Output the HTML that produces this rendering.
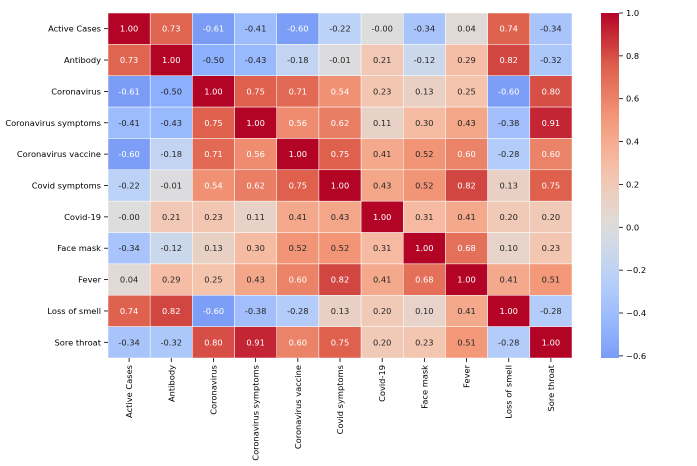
<!DOCTYPE html>
<html><head><meta charset="utf-8"><style>
body{margin:0;background:#fff;}
svg{display:block;font-family:"DejaVu Sans","Liberation Sans",sans-serif;}
</style></head><body>
<svg id="chart" width="697" height="466"></svg>
<script>
const labels=["Active Cases","Antibody","Coronavirus","Coronavirus symptoms","Coronavirus vaccine","Covid symptoms","Covid-19","Face mask","Fever","Loss of smell","Sore throat"];
const row0=[1.00,0.73,-0.61,-0.41,-0.60,-0.22,-0.00,-0.34,0.04,0.74,-0.34];
const row1=[0.73,1.00,-0.50,-0.43,-0.18,-0.01,0.21,-0.12,0.29,0.82,-0.32];
const row2=[-0.61,-0.50,1.00,0.75,0.71,0.54,0.23,0.13,0.25,-0.60,0.80];
const row3=[-0.41,-0.43,0.75,1.00,0.56,0.62,0.11,0.30,0.43,-0.38,0.91];
const row4=[-0.60,-0.18,0.71,0.56,1.00,0.75,0.41,0.52,0.60,-0.28,0.60];
const row5=[-0.22,-0.01,0.54,0.62,0.75,1.00,0.43,0.52,0.82,0.13,0.75];
const row6=[-0.00,0.21,0.23,0.11,0.41,0.43,1.00,0.31,0.41,0.20,0.20];
const row7=[-0.34,-0.12,0.13,0.30,0.52,0.52,0.31,1.00,0.68,0.10,0.23];
const row8=[0.04,0.29,0.25,0.43,0.60,0.82,0.41,0.68,1.00,0.41,0.51];
const row9=[0.74,0.82,-0.60,-0.38,-0.28,0.13,0.20,0.10,0.41,1.00,-0.28];
const row10=[-0.34,-0.32,0.80,0.91,0.60,0.75,0.20,0.23,0.51,-0.28,1.00];
const values=[row0,row1,row2,row3,row4,row5,row6,row7,row8,row9,row10];
const cbTicks=[1.0,0.8,0.6,0.4,0.2,0.0,-0.2,-0.4,-0.6];
const vmin=-0.61,vmax=1.0;

const svg=document.getElementById('chart');
const NS='http://www.w3.org/2000/svg';
const L=108,T=13,R=572,B=358;
const FS=8.3;
const n=labels.length,cw=(R-L)/n,ch=(B-T)/n;
const stops=[[0,59,76,192],[0.125,98,130,234],[0.25,141,176,254],[0.375,184,208,249],[0.5,221,221,221],[0.625,245,196,173],[0.75,244,154,123],[0.875,222,96,77],[1,180,4,38]];
function cmap(v){let t=(v+1)/2;t=Math.max(0,Math.min(1,t));
 for(let i=1;i<stops.length;i++){if(t<=stops[i][0]){const a=stops[i-1],b=stops[i],f=(t-a[0])/(b[0]-a[0]);
 return [0,1,2].map(k=>Math.round(a[k+1]+(b[k+1]-a[k+1])*f));}}return stops[8].slice(1);}
function mk(tag,attrs,txt){const e=document.createElementNS(NS,tag);for(const k in attrs)e.setAttribute(k,attrs[k]);if(txt!==undefined)e.textContent=txt;svg.appendChild(e);return e;}
const xs=i=>L+i*cw, ys=i=>T+i*ch;
const fmt=v=>{let s=Math.abs(v).toFixed(2);return ((v<0||Object.is(v,-0))?'-':'')+s;};
for(let r=0;r<n;r++){for(let c=0;c<n;c++){const v=values[r][c],col=cmap(v);
 const rect=mk('rect',{x:xs(c),y:ys(r),width:cw,height:ch,fill:`rgb(${col})`,stroke:'#fff','stroke-width':0.5});
 
 
 const white=(v>=0.53||v<=-0.55);
 const t=mk('text',{x:xs(c)+cw/2,y:ys(r)+ch/2+3,'text-anchor':'middle','font-size':FS,fill:white?'#fff':'#262626'},fmt(v));
 
 
}}
for(let i=0;i<n;i++){
 const yl=mk('text',{x:L-7,y:ys(i)+ch/2+3,'text-anchor':'end','font-size':FS,fill:'#000'},labels[i]);
 
 
 mk('line',{x1:L-4,x2:L,y1:ys(i)+ch/2,y2:ys(i)+ch/2,stroke:'#000','stroke-width':0.8});
 const cx=xs(i)+cw/2;
 mk('line',{x1:cx,x2:cx,y1:B,y2:B+4,stroke:'#000','stroke-width':0.8});
 const xl=mk('text',{x:0,y:0,'text-anchor':'end','font-size':FS,fill:'#000',transform:`translate(${cx+3},${B+7}) rotate(-90)`},labels[i]);
 
 
}
const CL=601,CW=18;
const defs=mk('defs',{});
const g=document.createElementNS(NS,'linearGradient');g.setAttribute('id','cb');g.setAttribute('x1',0);g.setAttribute('y1',1);g.setAttribute('x2',0);g.setAttribute('y2',0);defs.appendChild(g);
for(let k=0;k<=20;k++){const v=vmin+(vmax-vmin)*k/20;const s=document.createElementNS(NS,'stop');s.setAttribute('offset',k/20);s.setAttribute('stop-color',`rgb(${cmap(v)})`);g.appendChild(s);}
const cb=mk('rect',{x:CL,y:T,width:CW,height:B-T,fill:'url(#cb)'});


const cy=v=>B-(v-vmin)/(vmax-vmin)*(B-T);
cbTicks.forEach(v=>{const y=cy(v);
 mk('line',{x1:CL+CW,x2:CL+CW+4,y1:y,y2:y,stroke:'#000','stroke-width':0.8});
 const t=mk('text',{x:CL+CW+7,y:y+3,'font-size':FS,fill:'#000'},(v<0?'\u2212':'')+Math.abs(v).toFixed(1));
 
 
});
</script>
</body></html>
